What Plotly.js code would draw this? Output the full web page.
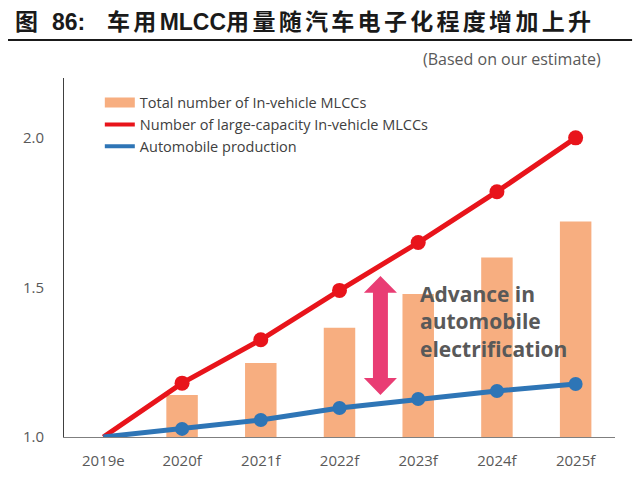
<!DOCTYPE html>
<html>
<head>
<meta charset="utf-8">
<script src="https://cdn.plot.ly/plotly-3.0.1.min.js"></script>
<style>html,body{margin:0;padding:0;background:#fff;}#chart{width:639px;height:479px;}</style>
</head>
<body>
<div id="chart"></div>
<script>
// ---- data ----
var categories = ["2019e", "2020f", "2021f", "2022f", "2023f", "2024f", "2025f"];
var totalMLCC = [1.0, 1.14, 1.247, 1.365, 1.478, 1.60, 1.72];
var largeCapMLCC = [1.0, 1.18, 1.325, 1.49, 1.65, 1.82, 2.0];
var autoProduction = [1.0, 1.027, 1.057, 1.097, 1.127, 1.154, 1.177];
var seriesNames = ["Total number of In-vehicle MLCCs", "Number of large-capacity In-vehicle MLCCs", "Automobile production"];
var yTicks = [1.0, 1.5, 2.0];
var yTickText = ["1.0", "1.5", "2.0"];
// title pieces: [text, isCJK, letterSpacingPx]
var titleParts = [["图", true, 3.3], ["&nbsp;", false, 4.3], ["86:", false, 0], ["&nbsp;&nbsp;", false, 4.5],
                  ["车用", true, 3.3], ["MLCC", false, 0], ["用量随汽车电子化程度增加上升", true, 3.3]];
var noteText = "(Based on our estimate)";
var calloutText = "Advance in<br>automobile<br>electrification";

// ---- styles ----
var cBar = "#f7ae80", cRed = "#e8141b", cBlue = "#2e75b6", cPink = "#e93d74";
var latin = "'Open Sans', 'Liberation Sans', sans-serif";
function markerSizes(arr, s){ return arr.map(function(v,i){ return i === 0 ? 0 : s; }); }

var titleHTML = titleParts.map(function(p){
  var fam = p[1] ? "\"Noto Sans CJK SC\"" : "\"Liberation Sans\",Arial";
  return "<span style='font-family:" + fam + ";letter-spacing:" + p[2] + "px'>" + p[0] + "</span>";
}).join("");

var traces = [
  {type: "bar", x: categories, y: totalMLCC, marker: {color: cBar, line: {width: 0}}, width: 0.4, showlegend: false},
  {type: "scatter", mode: "lines+markers", x: categories, y: largeCapMLCC, line: {color: cRed, width: 5},
   marker: {color: cRed, opacity: 1, size: markerSizes(largeCapMLCC, 15), line: {width: 0}}, showlegend: false, cliponaxis: false},
  {type: "scatter", mode: "lines+markers", x: categories, y: autoProduction, line: {color: cBlue, width: 5},
   marker: {color: cBlue, opacity: 1, size: markerSizes(autoProduction, 14), line: {width: 0}}, showlegend: false, cliponaxis: false},
  // legend entries
  {type: "scatter", mode: "lines", x: [null], y: [null], name: seriesNames[0], line: {color: cBar, width: 10}},
  {type: "scatter", mode: "lines", x: [null], y: [null], name: seriesNames[1], line: {color: cRed, width: 4}},
  {type: "scatter", mode: "lines", x: [null], y: [null], name: seriesNames[2], line: {color: cBlue, width: 4}}
];

var arrowX = 3.52, hw = 0.095, hh = 0.21;
var yTop = 1.538, yTopBase = 1.482, yBotBase = 1.197, yBot = 1.14;
var arrowPath = "M" + arrowX + "," + yTop +
  " L" + (arrowX + hh) + "," + yTopBase + " L" + (arrowX + hw) + "," + yTopBase +
  " L" + (arrowX + hw) + "," + yBotBase + " L" + (arrowX + hh) + "," + yBotBase +
  " L" + arrowX + "," + yBot +
  " L" + (arrowX - hh) + "," + yBotBase + " L" + (arrowX - hw) + "," + yBotBase +
  " L" + (arrowX - hw) + "," + yTopBase + " L" + (arrowX - hh) + "," + yTopBase + " Z";

var layout = {
  width: 639, height: 479,
  margin: {l: 64, r: 24, t: 78, b: 42},
  paper_bgcolor: "#ffffff", plot_bgcolor: "#ffffff",
  font: {family: latin, color: "#595959"},
  showlegend: true,
  legend: {x: 0.065, xanchor: "left", y: 0.976, yanchor: "top", bgcolor: "rgba(0,0,0,0)",
           font: {family: latin, size: 14.5, color: "#404040"}, itemwidth: 30, tracegroupgap: 0},
  xaxis: {type: "category", range: [-0.5, 6.5], showline: true, linecolor: "#7f7f7f", linewidth: 1,
          ticks: "", showgrid: false, zeroline: false, ticklabelstandoff: 10,
          tickfont: {family: latin, size: 15, color: "#595959"}},
  yaxis: {range: [1.0, 2.2], tickvals: yTicks, ticktext: yTickText, showline: true, linecolor: "#404040", linewidth: 1,
          ticks: "", showgrid: false, zeroline: false, ticklabelstandoff: 16,
          tickfont: {family: latin, size: 15, color: "#595959"}},
  shapes: [
    {type: "path", xref: "x", yref: "y", path: arrowPath, fillcolor: cPink, line: {width: 0}, layer: "above"},
    {type: "line", xref: "paper", yref: "paper", x0: -0.1016, x1: 1.031, y0: 1.1058, y1: 1.1058,
     line: {color: "#1a1a1a", width: 2}}
  ],
  annotations: [
    {xref: "paper", yref: "paper", x: -0.093, y: 1.161, xanchor: "left", yanchor: "middle", showarrow: false,
     text: "<b>" + titleHTML + "</b>", font: {family: "'Noto Sans CJK SC', sans-serif", size: 23, color: "#1a1a1a"}},
    {xref: "paper", yref: "paper", x: 0.979, y: 1.052, xanchor: "right", yanchor: "middle", showarrow: false,
     text: noteText, font: {family: latin, size: 16, color: "#595959"}},
    {xref: "x", yref: "y", x: 4.0, y: 1.385, xanchor: "left", yanchor: "middle", align: "left", showarrow: false,
     text: "<b>" + calloutText + "</b>", font: {family: latin, size: 21, color: "#595959"}}
  ]
};

Plotly.newPlot("chart", traces, layout, {displayModeBar: false, staticPlot: true});
</script>
</body>
</html>
